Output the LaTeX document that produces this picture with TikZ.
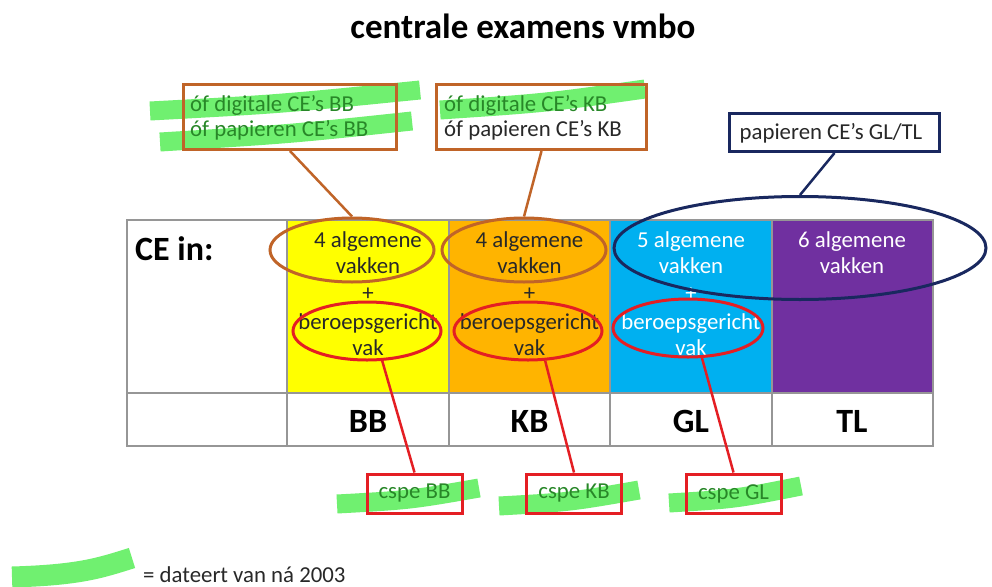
\documentclass[tikz,border=0pt]{standalone}
\usepackage{fontspec}
\setmainfont{Carlito}
\usetikzlibrary{shapes.geometric}
\definecolor{brn}{RGB}{192,100,40}
\definecolor{nvy}{RGB}{25,40,95}
\definecolor{rd}{RGB}{228,30,35}
\definecolor{yel}{RGB}{255,255,0}
\definecolor{org}{RGB}{255,180,0}
\definecolor{cya}{RGB}{0,176,240}
\definecolor{pur}{RGB}{112,48,160}
\definecolor{hl}{RGB}{112,240,112}
\definecolor{gtx}{RGB}{40,135,40}
\definecolor{grd}{RGB}{150,150,150}
\definecolor{dtx}{RGB}{40,40,40}
\newcommand\fsreg{\fontsize{22.8}{26}\selectfont}
\newcommand\fsbig{\fontsize{34}{40}\selectfont\bfseries}
\begin{document}
\begin{tikzpicture}[x=1pt,y=-1pt,
  hlstroke/.style={line width=19pt, draw=hl, line cap=butt},
  cell/.style={font=\fsreg, align=center, inner sep=0pt, text=dtx},
  cellw/.style={cell, text=white},
  head/.style={font=\fsbig, inner sep=0pt, text=black},
  ellb/.style={ellipse, draw=brn, line width=3pt, inner sep=0pt},
  ellr/.style={ellipse, draw=rd, line width=3pt, inner sep=0pt},
  elln/.style={ellipse, draw=nvy, line width=3pt, inner sep=0pt},
  callb/.style={draw=brn, line width=3pt, inner sep=0pt, anchor=north west},
  btxt/.style={font=\fsreg, inner sep=0pt, anchor=base west},
  cspebox/.style={draw=rd, line width=3pt, font=\fsreg, text=gtx, inner sep=0pt, minimum width=95pt, minimum height=39pt},
  linkb/.style={brn, line width=2.5pt},
  linkr/.style={rd, line width=2.5pt},
  linkn/.style={nvy, line width=2.5pt},
  grid/.style={grd, line width=1.5pt}
]
\useasboundingbox (0,0) rectangle (992,586);
\fill[white] (0,0) rectangle (992,586);

% title
\node[font=\fontsize{35}{40}\selectfont\bfseries, anchor=base, inner sep=0pt] (title) at (523,38) {centrale examens vmbo};

% table fills
\fill[yel] (287,220) rectangle (449,393);
\fill[org] (449,220) rectangle (610,393);
\fill[cya] (610,220) rectangle (772,393);
\fill[pur] (772,220) rectangle (933,393);
% table grid
\draw[grid] (127,220) rectangle (933,446);
\draw[grid] (127,393) -- (933,393);
\foreach \xx in {287,449,610,772} \draw[grid] (\xx,220) -- (\xx,446);

% header texts
\node[head, anchor=base west] (cein) at (135,260) {CE in:};
\node[head, anchor=base] (hBB) at (368,432) {BB};
\node[head, anchor=base] (hKB) at (529.5,432) {KB};
\node[head, anchor=base] (hGL) at (691,432) {GL};
\node[head, anchor=base] (hTL) at (852,432) {TL};

% cell texts
\node[cell] (aBB) at (368,253) {4 algemene\\vakken};
\node[cell] (pBB) at (368,294) {+};
\node[cell] (vBB) at (368,335) {beroepsgericht\\vak};
\node[cell] (aKB) at (529.5,253) {4 algemene\\vakken};
\node[cell] (pKB) at (529.5,294) {+};
\node[cell] (vKB) at (529.5,335) {beroepsgericht\\vak};
\node[cellw] (aGL) at (691,253) {5 algemene\\vakken};
\node[cellw] (pGL) at (691,294) {+};
\node[cellw] (vGL) at (691,335) {beroepsgericht\\vak};
\node[cellw] (aTL) at (852,253) {6 algemene\\vakken};

% highlight strokes
\draw[hlstroke] (150,111) .. controls (280,104) .. (420,90);
\draw[hlstroke] (160,142) .. controls (290,134) .. (412,121);
\draw[hlstroke] (440,110) .. controls (545,103) .. (645,89);
\draw[hlstroke] (337,504) .. controls (410,500) .. (479,488);
\draw[hlstroke] (499,506) .. controls (570,502) .. (639,490);
\draw[hlstroke] (669,503) .. controls (735,499) .. (801,486);
\draw[hl, line width=21pt] (12,577) .. controls (80,575) and (100,568) .. (132,558);

% callout boxes
\node[callb, minimum width=213pt, minimum height=65pt] (b1) at (182,83) {};
\node[btxt, text=gtx] (b1t1) at (190,111) {óf digitale CE’s BB};
\node[btxt, text=gtx] (b1t2) at (190,136) {óf papieren CE’s BB};
\node[callb, minimum width=210pt, minimum height=65pt] (b2) at (435,83) {};
\node[btxt, text=gtx] (b2t1) at (444,111) {óf digitale CE’s KB};
\node[btxt, text=dtx] (b2t2) at (444,136) {óf papieren CE’s KB};
\node[draw=nvy, line width=3pt, inner sep=0pt, minimum width=210pt, minimum height=38pt, anchor=north west] (b3) at (728,112) {};
\node[font=\fsreg, text=dtx, inner sep=0pt, anchor=base] (b3t) at (831,139) {papieren CE’s GL/TL};

% ellipses
\node[ellb, minimum width=164pt, minimum height=64pt] (eBB) at (352,250) {};
\node[ellb, minimum width=164pt, minimum height=64pt] (eKB) at (524,250) {};
\node[elln, minimum width=372pt, minimum height=103pt] (eGT) at (800,248) {};
\node[ellr, minimum width=148pt, minimum height=58pt] (rBB) at (367,331) {};
\node[ellr, minimum width=148pt, minimum height=58pt] (rKB) at (528,331) {};
\node[ellr, minimum width=150pt, minimum height=58pt] (rGL) at (688,328) {};

% cspe boxes
\node[cspebox] (cBB) at (414.5,493.5) {cspe BB};
\node[cspebox] (cKB) at (574,493.5) {cspe KB};
\node[cspebox] (cGL) at (733.5,493.5) {cspe GL};

% connectors
\draw[linkb] (b1.south) -- (eBB.north);
\draw[linkb] (b2.south) -- (eKB.north);
\draw[linkn] (b3.south) -- (eGT.north);
\draw[linkr] (rBB.-63) -- (cBB.north);
\draw[linkr] (rKB.-60) -- (cKB.north);
\draw[linkr] (rGL.-65) -- (cGL.north);

% legend
\node[font=\fsreg, text=dtx, anchor=base west, inner sep=0pt] (leg) at (143,582) {= dateert van ná 2003};
\end{tikzpicture}
\end{document}
